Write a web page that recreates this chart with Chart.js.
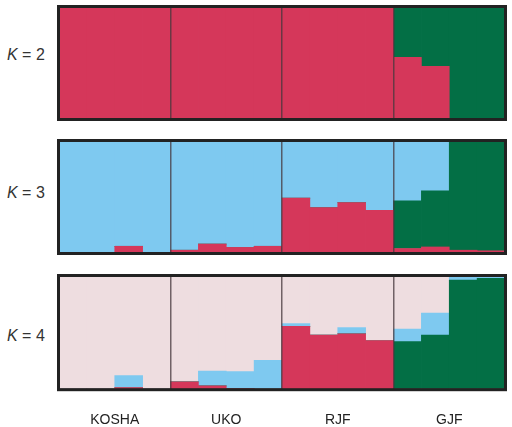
<!DOCTYPE html>
<html>
<head>
<meta charset="utf-8">
<script src="https://cdn.jsdelivr.net/npm/chart.js@4/dist/chart.umd.min.js"></script>
<style>
  body { margin: 0; background: #fff; width: 512px; height: 427px; position: relative; overflow: hidden; font-family: "Liberation Sans", Arial, sans-serif; }
  .panel { position: absolute; left: 57px; width: 450px; }
  .klab { position: absolute; left: 7px; font-size: 16px; color: #333; line-height: 16px; }
  .klab i { font-style: italic; }
</style>
</head>
<body>
<div class="klab" style="top:47px"><i>K</i> = 2</div>
<div class="klab" style="top:185px"><i>K</i> = 3</div>
<div class="klab" style="top:328px"><i>K</i> = 4</div>
<div class="panel" style="top:5px;height:116px"><canvas id="k2"></canvas></div>
<div class="panel" style="top:139px;height:116px"><canvas id="k3"></canvas></div>
<div class="panel" style="top:274px;height:180px"><canvas id="k4"></canvas></div>
<script>
// 4 populations, 4 individuals each
const populations = ["KOSHA", "UKO", "RJF", "GJF"];
const individuals = ["K1","K2","K3","K4","U1","U2","U3","U4","R1","R2","R3","R4","G1","G2","G3","G4"];

const RED = "#d5375a", GREEN = "#036f45", BLUE = "#7ec9f0", PINK = "#eedde0";

// K = 2
const k2Red   = [1,1,1,1, 1,1,1,1, 1,1,1,1, 0.55,0.47,0,0];
const k2Green = [0,0,0,0, 0,0,0,0, 0,0,0,0, 0.45,0.53,1,1];

// K = 3
const k3Red   = [0,0,0.06,0, 0.025,0.08,0.05,0.06, 0.49,0.405,0.45,0.38, 0.04,0.054,0.025,0.02];
const k3Green = [0,0,0,0, 0,0,0,0, 0,0,0,0, 0.425,0.50,0.975,0.98];
const k3Blue  = [1,1,0.94,1, 0.975,0.92,0.95,0.94, 0.51,0.595,0.55,0.62, 0.535,0.446,0,0];

// K = 4
const k4Red   = [0,0,0.015,0, 0.065,0.03,0.005,0, 0.555,0.477,0.49,0.43, 0,0,0,0];
const k4Green = [0,0,0,0, 0,0,0,0, 0,0,0,0, 0.42,0.477,0.964,0.98];
const k4Blue  = [0,0,0.105,0, 0,0.13,0.15,0.256, 0.025,0,0.055,0, 0.11,0.195,0.036,0.02];
const k4Pink  = [1,1,0.88,1, 0.935,0.84,0.845,0.744, 0.42,0.523,0.455,0.57, 0.47,0.328,0,0];

// thick frame round the plot area
const frame = {
  id: "frame",
  afterDraw(chart) {
    const a = chart.chartArea, c = chart.ctx;
    c.save();
    c.strokeStyle = "#222";
    c.lineWidth = 3;
    c.strokeRect(a.left - 0.5, a.top - 0.5, a.right - a.left + 1, a.bottom - a.top + 1);
    c.restore();
  }
};

function ds(data, color) {
  return { data: data, backgroundColor: color, borderWidth: 0, barPercentage: 1, categoryPercentage: 1 };
}

function rita(id, sets, withPops) {
  const scales = {
    x: {
      stacked: true,
      grid: {
        offset: true,
        z: 1,
        drawTicks: false,
        lineWidth: 1.5,
        color: ctx => ctx.index % 4 === 0 ? "rgba(70,55,60,0.75)" : "rgba(0,0,0,0)"
      },
      border: { display: false },
      ticks: { display: false }
    },
    y: { stacked: true, min: 0, max: 1, display: false }
  };
  if (withPops) {
    scales.pop = {
      type: "category",
      labels: populations,
      position: "bottom",
      offset: true,
      grid: { display: false, drawTicks: false },
      border: { display: false },
      ticks: { color: "#222", font: { size: 14, family: "Liberation Sans, Arial, sans-serif" }, padding: 23 }
    };
  }
  return new Chart(document.getElementById(id), {
    type: "bar",
    data: { labels: individuals, datasets: sets },
    options: {
      responsive: true,
      maintainAspectRatio: false,
      animation: false,
      layout: { padding: 2 },
      plugins: { legend: { display: false }, tooltip: { enabled: false } },
      scales: scales
    },
    plugins: [frame]
  });
}

rita("k2", [ds(k2Red, RED), ds(k2Green, GREEN)], false);
rita("k3", [ds(k3Red, RED), ds(k3Green, GREEN), ds(k3Blue, BLUE)], false);
rita("k4", [ds(k4Red, RED), ds(k4Green, GREEN), ds(k4Blue, BLUE), ds(k4Pink, PINK)], true);
</script>
</body>
</html>
